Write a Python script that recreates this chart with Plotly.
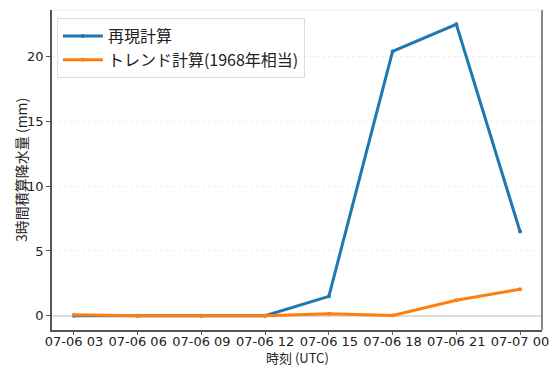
import plotly.graph_objects as go

times = ["2018-07-06 03:00", "2018-07-06 06:00", "2018-07-06 09:00", "2018-07-06 12:00",
         "2018-07-06 15:00", "2018-07-06 18:00", "2018-07-06 21:00", "2018-07-07 00:00"]
reproduce = [0.0, 0.0, 0.0, 0.0, 1.5, 20.4, 22.5, 6.5]
trend = [0.08, 0.0, 0.0, 0.0, 0.15, 0.02, 1.2, 2.05]
series_names = ["再現計算", "トレンド計算(1968年相当)"]
tick_labels = ["07-06 03", "07-06 06", "07-06 09", "07-06 12",
               "07-06 15", "07-06 18", "07-06 21", "07-07 00"]
x_title = "時刻 (UTC)"
y_title = "3時間積算降水量 (mm)"

font_family = "DejaVu Sans, Noto Sans CJK JP, sans-serif"
jp_font = "Noto Sans CJK JP, DejaVu Sans"

fig = go.Figure()
fig.add_trace(go.Scatter(x=times, y=reproduce, name=series_names[0], mode="lines+markers",
                         line=dict(color="#1f77b4", width=3), marker=dict(size=4)))
fig.add_trace(go.Scatter(x=times, y=trend, name=series_names[1], mode="lines+markers",
                         line=dict(color="#ff7f0e", width=3), marker=dict(size=4)))

fig.update_layout(
    width=553, height=367,
    margin=dict(l=52, r=11, t=10, b=37, autoexpand=False),
    paper_bgcolor="white", plot_bgcolor="white",
    font=dict(family=font_family, size=13, color="#222"),
    showlegend=True,
    legend=dict(x=0.01, y=0.975, xanchor="left", yanchor="top",
                bgcolor="rgba(255,255,255,0.9)", bordercolor="#dddddd", borderwidth=1,
                font=dict(family=jp_font, size=16, color="#222"),
                itemwidth=40, tracegroupgap=0),
    xaxis=dict(
        type="date", automargin=False,
        range=["2018-07-06 01:58", "2018-07-07 01:02"],
        tickvals=times, ticktext=tick_labels,
        showgrid=False, zeroline=False,
        showline=True, linecolor="#555", linewidth=1.5,
        ticks="outside", ticklen=3, tickcolor="#555",
        ticklabelstandoff=-4,
        tickfont=dict(size=13),
    ),
    yaxis=dict(
        range=[-1.1, 23.6], automargin=False,
        tickvals=[0, 5, 10, 15, 20],
        showgrid=True, gridcolor="#eeeeee", griddash="dot", gridwidth=1,
        zeroline=True, zerolinecolor="#dddddd", zerolinewidth=1.5,
        showline=True, linecolor="#555", linewidth=1.5,
        ticks="outside", ticklen=4, tickcolor="#555",
        tickfont=dict(size=13),
    ),
    annotations=[
        dict(text=x_title, xref="paper", yref="paper", x=0.5, y=0, yshift=-27,
             xanchor="center", yanchor="middle", showarrow=False, borderpad=0,
             font=dict(family=jp_font, size=13, color="#222")),
        dict(text=y_title, xref="paper", yref="paper", x=0, y=0.5, xshift=-31,
             xanchor="center", yanchor="middle", textangle=-90, showarrow=False,
             font=dict(family=jp_font, size=14, color="#222")),
    ],
    shapes=[
        dict(type="line", xref="paper", yref="paper", x0=1, x1=1, y0=0, y1=1,
             line=dict(color="#888", width=2)),
        dict(type="line", xref="paper", yref="paper", x0=0, x1=1, y0=1, y1=1,
             line=dict(color="#e8e8e8", width=1)),
    ],
)

fig.write_html("out.html")
